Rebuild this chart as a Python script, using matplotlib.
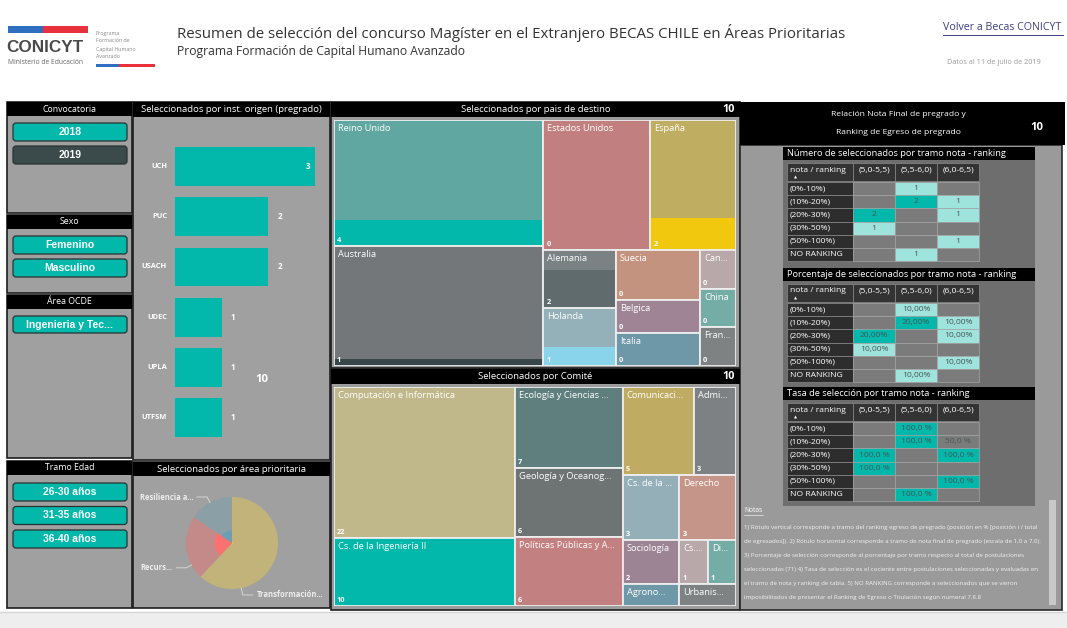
import numpy as np
import matplotlib
matplotlib.use("Agg")
import matplotlib.pyplot as plt
from matplotlib.patches import Rectangle, FancyBboxPatch, Wedge

plt.rcParams["font.family"] = ["Open Sans", "DejaVu Sans"]

# ---- values ----
inst = ["UCH", "PUC", "USACH", "UDEC", "UPLA", "UTFSM"]
inst_n = [3, 2, 2, 1, 1, 1]

paises = ["Reino Unido", "Australia", "Estados Unidos", "España", "Alemania", "Holanda",
          "Suecia", "Belgica", "Italia", "Can...", "China", "Fran..."]
paises_total = [19, 18, 10, 8, 3, 3, 3, 2, 2, 1, 1, 1]
paises_sel = [4, 1, 0, 2, 2, 1, 0, 0, 0, 0, 0, 0]
paises_fade = ["#5fa7a0", "#737779", "#c27f7f", "#bfae62", "#7b8283", "#94b0b9",
               "#c4937f", "#9e8494", "#6e97a7", "#b8a8a9", "#74aca6", "#7e8283"]
paises_full = ["#01b8aa", "#374649", "#fd625e", "#f2c80f", "#5f6b6d", "#8ad4eb",
               "#fe9666", "#a66999", "#3599b8", "#dfbfbf", "#4ac5bb", "#5f6b6d"]

comites = ["Computación e Informática", "Cs. de la Ingeniería II", "Ecología y Ciencias ...",
           "Geología y Oceanog...", "Políticas Públicas y A...", "Comunicaci...", "Admi...",
           "Cs. de la ...", "Derecho", "Sociología", "Agrono...", "Cs....", "Di...", "Urbanis..."]
comites_total = [22, 10, 7, 6, 6, 5, 3, 3, 3, 2, 1, 1, 1, 1]
comites_sel = [0, 10, 0, 0, 0, 0, 0, 0, 0, 0, 0, 0, 0, 0]
comites_fade = ["#c0b88a", "#5fa7a0", "#5e7f7d", "#6e7374", "#c28081", "#c0ab62", "#7e8183",
                "#94afb8", "#c5958a", "#9d8494", "#6e97a7", "#b8a8a9", "#74aca6", "#7e8283"]
comites_full = ["#f4d25a", "#01b8aa", "#374649", "#5f6b6d", "#fd625e", "#f2c80f", "#5f6b6d",
                "#8ad4eb", "#fe9666", "#a66999", "#3599b8", "#dfbfbf", "#4ac5bb", "#7f898a"]

areas = ["Transformación...", "Recurs...", "Resiliencia a..."]
areas_total = [44, 16, 11]
areas_sel = [1, 6, 3]
areas_fade = ["#c1b37a", "#c48a8a", "#8a9fa6"]
areas_full = ["#f2c80f", "#fd7070", "#6aa0b2"]

tramo_rank = ["(0%-10%)", "(10%-20%)", "(20%-30%)", "(30%-50%)", "(50%-100%)", "NO RANKING"]
tramo_nota = ["(5,0-5,5)", "(5,5-6,0)", "(6,0-6,5)"]
num_sel = [[None, 1, None], [None, 2, 1], [2, None, 1], [1, None, None], [None, None, 1], [None, 1, None]]
pct_sel = [[None, 10.0, None], [None, 20.0, 10.0], [20.0, None, 10.0], [10.0, None, None],
           [None, None, 10.0], [None, 10.0, None]]
tasa_sel = [[None, 100.0, None], [None, 100.0, 50.0], [100.0, None, 100.0], [100.0, None, None],
            [None, None, 100.0], [None, 100.0, None]]

notas = [
    "1) Rótulo vertical corresponde a tramo del ranking egreso de pregrado (posición en % [posición i / total",
    "de egresados]). 2) Rótulo horizontal corresponde a tramo de nota final de pregrado (escala de 1,0 a 7,0).",
    "3) Porcentaje de selección corresponde al porcentaje por tramo respecto al total de postulaciones",
    "seleccionadas (71) 4) Tasa de selección es el cociente entre postulaciones seleccionadas y evaluadas en",
    "el tramo de nota y ranking de tabla. 5) NO RANKING corresponde a seleccionados que se vieron",
    "imposibilitados de presentar el Ranking de Egreso o Titulación según numeral 7.8.8",
]

TEAL = "#01b8aa"
PANEL = "#a0a0a0"
HFS = 6.8   # panel header font size
W, H = 1067, 628

fig = plt.figure(figsize=(W / 100, H / 100), dpi=100)
fig.patch.set_facecolor("white")
base = fig.add_axes([0, 0, 1, 1])
base.set_xlim(0, W)
base.set_ylim(H, 0)
base.axis("off")


def sub(x, y, w, h):
    a = fig.add_axes([x / W, 1 - (y + h) / H, w / W, h / H])
    a.axis("off")
    return a


def rect(x, y, w, h, fc, ec="none", lw=0, z=1):
    base.add_patch(Rectangle((x, y), w, h, facecolor=fc, edgecolor=ec, linewidth=lw, zorder=z))


def txt(x, y, s, **kw):
    kw.setdefault("va", "center")
    base.text(x, y, s, zorder=5, **kw)


def panel(x, y, w, h, title, hh=14, fs=HFS, count=None, fc=PANEL):
    rect(x, y, w, h, fc, ec="#1e1e1e", lw=1.2)
    rect(x, y, w, hh, "black", z=2)
    txt(x + w / 2, y + hh / 2, title, ha="center", color="white", fontsize=fs)
    if count is not None:
        txt(x + w - 5, y + hh / 2, count, ha="right", color="white", fontsize=7.8, weight="bold")


def button(x, y, w, h, label, fc=TEAL):
    base.add_patch(FancyBboxPatch((x, y), w, h, boxstyle="round,pad=0,rounding_size=3",
                                  facecolor=fc, edgecolor="#263333", linewidth=0.9, zorder=3))
    txt(x + w / 2, y + h / 2, label, ha="center", color="white", fontsize=7.5,
        weight="bold", family="Liberation Sans")


def squarify(values, x0, y0, x1, y1, ratio=1.618):
    # d3-style squarified layout (same as Power BI treemap)
    out, n, i0, value = [], len(values), 0, float(sum(values))
    while i0 < n:
        dx, dy = x1 - x0, y1 - y0
        i1 = i0 + 1
        s = mn = mx = values[i0]
        alpha = max(dy / dx, dx / dy) / (value * ratio)
        beta = s * s * alpha
        best = max(mx / beta, beta / mn)
        while i1 < n:
            v = values[i1]
            s2, mn2, mx2 = s + v, min(mn, v), max(mx, v)
            beta = s2 * s2 * alpha
            r = max(mx2 / beta, beta / mn2)
            if r > best:
                break
            s, mn, mx, best = s2, mn2, mx2, r
            i1 += 1
        if dx < dy:
            yb = y0 + dy * s / value
            xx = x0
            for v in values[i0:i1]:
                out.append((xx, y0, dx * v / s, yb - y0))
                xx += dx * v / s
            y0 = yb
        else:
            xb = x0 + dx * s / value
            yy = y0
            for v in values[i0:i1]:
                out.append((x0, yy, xb - x0, dy * v / s))
                yy += dy * v / s
            x0 = xb
        value -= s
        i0 = i1
    return out


def treemap(x, y, w, h, names, totals, sel, fade, full, labels):
    ax = sub(x, y, w, h)
    ax.set_xlim(0, w)
    ax.set_ylim(h, 0)
    for (rx, ry, rw, rh), nm, t, s, cf, cu, lab in zip(squarify(totals, 0, 0, w, h),
                                                        names, totals, sel, fade, full, labels):
        cell = Rectangle((rx, ry), rw, rh, facecolor=cf, edgecolor="none")
        ax.add_patch(cell)
        if s:
            hh = rh * s / t
            ax.add_patch(Rectangle((rx, ry + rh - hh), rw, hh, facecolor=cu, edgecolor="none"))
        ax.add_patch(Rectangle((rx, ry), rw, rh, facecolor="none", edgecolor="#eeeeee", linewidth=1.3))
        t1 = ax.text(rx + 4, ry + 4, nm, va="top", ha="left", fontsize=6.7, color="white")
        t1.set_clip_path(cell)
        if rh > 30:
            ax.text(rx + 3, ry + rh - 2, lab, va="bottom", ha="left", fontsize=5.3,
                    weight="bold", color="white")


# ---- header ----
rect(8, 26, 35, 7, "#2f6fc0")
rect(43, 26, 45, 7, "#e8313d")
txt(6, 47, "CONICYT", ha="left", fontsize=12.3, weight="bold", color="#4a4a4a", family="Liberation Sans")
txt(8, 62, "Ministerio de Educación", ha="left", fontsize=4.9, color="#666666")
for i, s in enumerate(["Programa", "Formación de", "Capital Humano", "Avanzado"]):
    txt(96, 33 + i * 8, s, ha="left", fontsize=3.8, color="#888888")
rect(96, 64, 23, 3, "#2f6fc0")
rect(119, 64, 36, 3, "#e8313d")
txt(177, 33, "Resumen de selección del concurso Magíster en el Extranjero BECAS CHILE en Áreas Prioritarias",
    ha="left", fontsize=10.8, color="#333333")
txt(177, 52, "Programa Formación de Capital Humano Avanzado", ha="left", fontsize=8.75, color="#333333")
txt(943, 28, "Volver a Becas CONICYT", ha="left", fontsize=7.7, color="#3d3d8a")
base.plot([943, 1063], [35, 35], color="#3d3d8a", lw=0.7)
txt(947, 63, "Datos al 11 de julio de 2019", ha="left", fontsize=5.2, color="#9a9a9a")

# ---- left slicers ----
panel(7, 102, 125, 111, "Convocatoria", fs=6.3)
button(13, 123, 114, 18, "2018")
button(13, 146, 114, 18, "2019", fc="#3b4a4b")
panel(7, 215, 125, 78, "Sexo", fs=6.3)
button(13, 236, 114, 18, "Femenino")
button(13, 259, 114, 18, "Masculino")
panel(7, 295, 125, 163, "Área OCDE", fs=6.3)
button(13, 316, 114, 17, "Ingenieria y Tec...")
panel(7, 461, 125, 147, "Tramo Edad", fs=6.3)
for i, s in enumerate(["26-30 años", "31-35 años", "36-40 años"]):
    button(13, 483 + i * 23.5, 114, 18, s)

# ---- bars by institution ----
panel(133, 102, 197, 358, "Seleccionados por inst. origen (pregrado)", hh=15)
axb = sub(134, 117, 195, 342)
axb.barh(range(len(inst)), inst_n, height=0.775, color=TEAL)
axb.set_xlim(-0.879, 3.3)
axb.set_ylim(5.82, -0.984)
for i, (lab, v) in enumerate(zip(inst, inst_n)):
    axb.text(-0.17, i, lab, ha="right", va="center", fontsize=5.4, weight="bold", color="white")
    if v == max(inst_n):
        axb.text(v - 0.1, i, str(v), ha="right", va="center", fontsize=5.8, weight="bold", color="white")
    else:
        axb.text(v + 0.2, i, str(v), ha="left", va="center", fontsize=5.8, weight="bold", color="white")
txt(262, 380, "10", ha="center", fontsize=8.2, weight="bold", color="white")

# ---- pie by priority area ----
panel(133, 462, 197, 146, "Seleccionados por área prioritaria")
R = 46.0
cx, cy = 232, 543
axp = sub(134, 477, 195, 130)
wedges, _ = axp.pie(areas_total, colors=areas_fade, startangle=90, counterclock=False,
                    radius=1, wedgeprops=dict(linewidth=0))
for wd, s, t, c in zip(wedges, areas_sel, areas_total, areas_full):
    axp.add_patch(Wedge((0, 0), s / t, wd.theta1, wd.theta2, facecolor=c, edgecolor="none"))
axp.set_aspect("auto")
axp.set_xlim(-(cx - 134) / R, (329 - cx) / R)
axp.set_ylim(-(607 - cy) / R, (cy - 477) / R)
# label anchors (text edge, in radius units) and side
lab_pos = [(0.54, -1.13, "left"), (-1.30, -0.54, "right"), (-0.85, 1.0, "right")]
for name, (lx, ly, side) in zip(areas, lab_pos):
    sgn = -1 if side == "left" else 1
    hx = lx + sgn * 0.087
    ex = hx + sgn * 0.22
    d = np.hypot(ex, ly)
    axp.plot([hx, ex, ex / d], [ly, ly, ly / d], color="#dddddd", lw=0.6)
    axp.text(lx, ly, name, ha=side, va="center", fontsize=5.5, weight="bold", color="#eeeeee")

# ---- treemaps ----
panel(331, 102, 409, 266, "Seleccionados por pais de destino", hh=15, count="10", fc="#9c9c9c")
treemap(334, 120, 402, 246, paises, paises_total, paises_sel, paises_fade, paises_full,
        [str(v) for v in paises_sel])
panel(331, 369, 409, 241, "Seleccionados por Comité", hh=15, count="10", fc="#9c9c9c")
treemap(334, 387, 402, 219, comites, comites_total, comites_sel, comites_fade, comites_full,
        [str(v) for v in comites_total])

# ---- right block: tables ----
rect(740, 145, 322, 465, "#9a9a9a", ec="#2a2a2a", lw=1.2)
rect(740, 102, 325, 43, "black", z=2)
txt(898, 115, "Relación Nota Final de pregrado y", ha="center", color="white", fontsize=6.1)
txt(898, 132, "Ranking de Egreso de pregrado", ha="center", color="white", fontsize=6.1)
txt(1037, 127, "10", ha="center", color="white", fontsize=8.2, weight="bold")
rect(783, 147, 252, 359, "#6e6e6e", z=1.5)

xs = [787, 853, 895, 937, 979]
light = "#9ee3dc"
TFS = 6.1


def table(y0, title, vals, fmt, cmap):
    rect(783, y0, 252, 13, "black", z=2)
    txt(787, y0 + 6.5, title, ha="left", color="white", fontsize=6.7)
    ty = y0 + 16
    for j in range(4):
        rect(xs[j], ty, xs[j + 1] - xs[j], 18, "#333333", ec="#8a8a8a", lw=0.5, z=2)
    txt(xs[0] + 3, ty + 7, "nota / ranking", ha="left", color="white", fontsize=TFS)
    txt(xs[0] + 8, ty + 14.5, "▲", ha="center", color="white", fontsize=2.8)
    for j, c in enumerate(tramo_nota):
        txt((xs[j + 1] + xs[j + 2]) / 2, ty + 7, c, ha="center", color="white", fontsize=TFS)
    for i, (r, row) in enumerate(zip(tramo_rank, vals)):
        yy = ty + 19 + i * 13.2
        rect(xs[0], yy, xs[1] - xs[0], 13.2, "#2d2d2d", ec="#8a8a8a", lw=0.5, z=2)
        txt(xs[0] + 3, yy + 6.6, r, ha="left", color="white", fontsize=TFS)
        for j, v in enumerate(row):
            fc = cmap.get(v, "#7b7b7b")
            rect(xs[j + 1], yy, xs[j + 2] - xs[j + 1], 13.2, fc, ec="#a5a5a5", lw=0.5, z=2)
            if v is not None:
                txt((xs[j + 1] + xs[j + 2]) / 2, yy + 6.6, fmt(v), ha="center",
                    color="#4a5656", fontsize=TFS)


table(147, "Número de seleccionados por tramo nota - ranking", num_sel,
      lambda v: str(v), {1: light, 2: TEAL})
table(268, "Porcentaje de seleccionados por tramo nota - ranking", pct_sel,
      lambda v: f"{v:.2f}".replace(".", ",") + "%", {10.0: light, 20.0: TEAL})
table(387, "Tasa de selección por tramo nota - ranking", tasa_sel,
      lambda v: f"{v:.1f}".replace(".", ",") + " %", {100.0: TEAL})

# ---- notes ----
txt(744, 511, "Notas", ha="left", color="white", fontsize=4.8)
base.plot([744, 763], [515, 515], color="white", lw=0.4)
for i, s in enumerate(notas):
    txt(744, 527 + i * 14, s, ha="left", color="#f2f2f2", fontsize=4.4)
rect(1049, 500, 7, 105, "#c8c8c8", z=2)

# ---- bottom strip ----
rect(0, 612, W, 16, "#eeeeee")
base.plot([0, W], [612, 612], color="#d5d5d5", lw=1)

fig.savefig("out.png", dpi=100, facecolor="white")
